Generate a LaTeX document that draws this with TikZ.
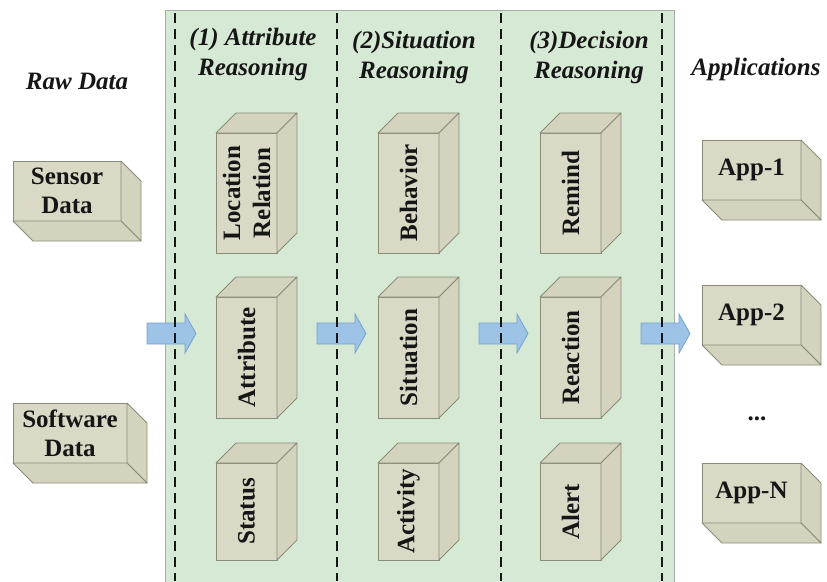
\documentclass[tikz,border=0pt]{standalone}
\usepackage{fontspec}
\setmainfont{Liberation Serif}
\definecolor{panelfill}{HTML}{D6E9D4}
\definecolor{panelline}{HTML}{A8ADA8}
\definecolor{boxfront}{HTML}{D9D9C6}
\definecolor{boxside}{HTML}{D3D3BE}
\definecolor{boxline}{HTML}{8A8C7A}
\definecolor{arrowfill}{HTML}{9DC3E6}
\definecolor{arrowline}{HTML}{74A2D2}
\definecolor{inkdark}{HTML}{161616}

% Extruded box, depth toward the lower right: name, x0, y0, x1, y1, text
\newcommand\hcube[6]{%
  \node[face, minimum width={(#4-#2)*1pt}, minimum height={(#5-#3)*1pt}]
    (#1) at ({(#2+#4)/2},{(#3+#5)/2}) {#6};
  \draw[side] (#1.north east) -- ++(20,20) -- ++(0,{#5-#3}) -- (#1.south east) -- cycle;
  \draw[side] (#1.south west) -- ++(20,20) -- ++({#4-#2},0) -- (#1.south east) -- cycle;
}
% Extruded box, depth toward the upper right, rotated label
\newcommand\vcube[6]{%
  \node[face, minimum width={(#4-#2)*1pt}, minimum height={(#5-#3)*1pt}]
    (#1) at ({(#2+#4)/2},{(#3+#5)/2}) {};
  \draw[side] (#1.north west) -- ++(20,-20) -- ++({#4-#2},0) -- (#1.north east) -- cycle;
  \draw[side] (#1.north east) -- ++(20,-20) -- ++(0,{#5-#3}) -- (#1.south east) -- cycle;
  \node[boxtext, rotate=90] (#1-label) at (#1.center) {#6};
}
% Block arrow starting at x = #2, named #1
\newcommand\flowarrow[2]{%
  \coordinate (#1) at (#2,333.5);
  \draw[flow] (#1) ++(0,-10.5) -- ++(38,0) -- ++(0,-9) -- ++(11,19.5)
    -- ++(-11,19.5) -- ++(0,-9) -- ++(-38,0) -- cycle;
}

\begin{document}
\begin{tikzpicture}[x=1pt,y=-1pt,
  face/.style={draw=boxline, fill=boxfront, line width=0.8pt, inner sep=0pt,
    outer sep=0pt, font=\fontsize{25}{29}\selectfont\bfseries, align=center,
    text=inkdark},
  side/.style={draw=boxline, fill=boxside, line width=0.8pt, line join=round},
  boxtext/.style={font=\fontsize{25}{30}\selectfont\bfseries, align=center,
    inner sep=0pt, text=inkdark},
  hdr/.style={font=\fontsize{25}{30}\selectfont\bfseries\itshape, align=center,
    inner sep=0pt, text=inkdark},
  flow/.style={draw=arrowline, fill=arrowfill, line width=0.8pt, line join=miter},
  divider/.style={draw=inkdark, line width=1.8pt, dash pattern=on 10pt off 6pt},
]
\useasboundingbox (0,0) rectangle (827,581);

% reasoning panel
\draw[fill=panelfill, draw=panelline, line width=1pt] (165,10) rectangle (674,590);

% column headers
\node[hdr] (h1) at (253,54) {(1) Attribute\\Reasoning};
\node[hdr] (h2) at (414,57) {(2)Situation\\Reasoning};
\node[hdr] (h3) at (589,57) {(3)Decision\\Reasoning};
\node[hdr] (raw) at (77,81) {Raw Data};
\node[hdr] (apps) at (756,69) {Applications};

% raw data sources
\hcube{sensor}{13}{161}{121}{221}{Sensor\\Data}
\hcube{software}{13}{403}{127}{463}{Software\\Data}

% reasoning stages
\vcube{loc}{216}{133}{277}{253}{Location\\Relation}
\vcube{attr}{216}{297}{277}{418}{Attribute}
\vcube{status}{216}{463}{277}{560}{Status}
\vcube{behav}{378}{133}{439}{253}{Behavior}
\vcube{situ}{378}{297}{439}{418}{Situation}
\vcube{activ}{378}{463}{439}{560}{Activity}
\vcube{remind}{540}{133}{601}{253}{Remind}
\vcube{react}{540}{297}{601}{418}{Reaction}
\vcube{alert}{540}{463}{601}{560}{Alert}

% applications
\hcube{app1}{702}{140}{801}{200}{App-1}
\hcube{app2}{702}{285}{801}{345}{App-2}
\hcube{appn}{702}{463}{801}{523}{App-N}
\node[boxtext] (dots) at (757,419) {...};

% flow between stages
\flowarrow{a1}{147}
\flowarrow{a2}{317}
\flowarrow{a3}{479}
\flowarrow{a4}{641}

% stage dividers
\foreach \x/\n in {175/d1, 337/d2, 501/d3, 662/d4}{
  \coordinate (\n-top) at (\x,13);
  \coordinate (\n-bot) at (\x,581);
  \draw[divider] (\n-top) -- (\n-bot);
}
\end{tikzpicture}
\end{document}
